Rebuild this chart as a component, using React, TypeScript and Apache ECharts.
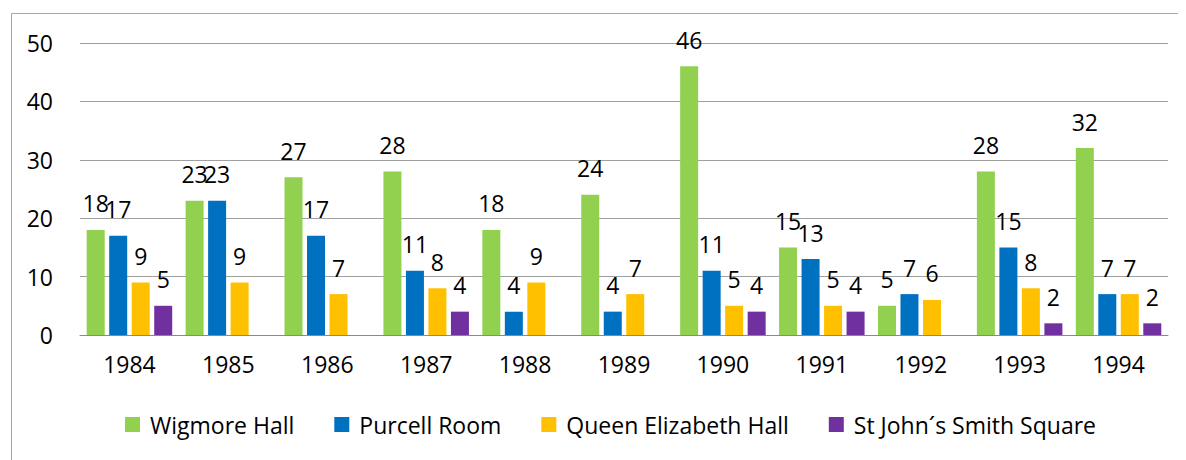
import React, { useEffect, useRef } from "react";
import * as echarts from "echarts";

const years = ["1984", "1985", "1986", "1987", "1988", "1989", "1990", "1991", "1992", "1993", "1994"];
const wigmoreHall = [18, 23, 27, 28, 18, 24, 46, 15, 5, 28, 32];
const purcellRoom = [17, 23, 17, 11, 4, 4, 11, 13, 7, 15, 7];
const queenElizabethHall = [9, 9, 7, 8, 9, 7, 5, 5, 6, 8, 7];
const stJohnsSmithSquare = [5, null, null, 4, null, null, 4, 4, null, 2, 2];

const seriesNames = ["Wigmore Hall", "Purcell Room", "Queen Elizabeth Hall", "St John\u00b4s Smith Square"];
const seriesColors = ["#92D050", "#0070C0", "#FFC000", "#7030A0"];
const seriesData = [wigmoreHall, purcellRoom, queenElizabethHall, stJohnsSmithSquare];

const FONT = "'Open Sans', 'Noto Sans', sans-serif";

export default function App() {
  const ref = useRef<HTMLDivElement>(null);
  useEffect(() => {
    if (!ref.current) return;
    const chart = echarts.init(ref.current, undefined, { renderer: "svg" });
    chart.setOption({
      animation: false,
      textStyle: { fontFamily: FONT },
      graphic: [
        {
          type: "rect",
          shape: { x: 3.5, y: 5.5, width: 1400, height: 700 },
          style: { fill: "none", stroke: "#a6a6a6", lineWidth: 1 },
          silent: true,
        },
      ],
      grid: { left: 72, right: 18, top: 35, bottom: 125, containLabel: false },
      legend: {
        left: 112,
        top: 400,
        itemWidth: 15,
        itemHeight: 15,
        itemGap: 40,
        icon: "rect",
        textStyle: { fontSize: 23, color: "#000", fontFamily: FONT, padding: [0, 0, 0, 5] },
        data: seriesNames,
      },
      xAxis: {
        type: "category",
        data: years,
        axisLine: { lineStyle: { color: "#898989", width: 1 } },
        axisTick: { show: false },
        axisLabel: { fontSize: 23, color: "#000", margin: 17, fontFamily: FONT },
      },
      yAxis: {
        type: "value",
        min: 0,
        max: 50,
        interval: 10,
        axisLine: { show: false },
        axisTick: { show: false },
        axisLabel: { fontSize: 23, color: "#000", margin: 27, fontFamily: FONT },
        splitLine: { lineStyle: { color: "#a0a0a0", width: 1 } },
      },
      series: seriesData.map((d, i) => ({
        name: seriesNames[i],
        type: "bar",
        data: d.map((v) => (v === null ? "-" : v)),
        barWidth: 18,
        barGap: "25%",
        itemStyle: { color: seriesColors[i] },
        label: {
          show: true,
          position: "top",
          distance: 15,
          fontSize: 23,
          color: "#000",
          fontFamily: FONT,
        },
      })),
    });
    return () => chart.dispose();
  }, []);
  return <div ref={ref} style={{ width: 1178, height: 452 }} />;
}
